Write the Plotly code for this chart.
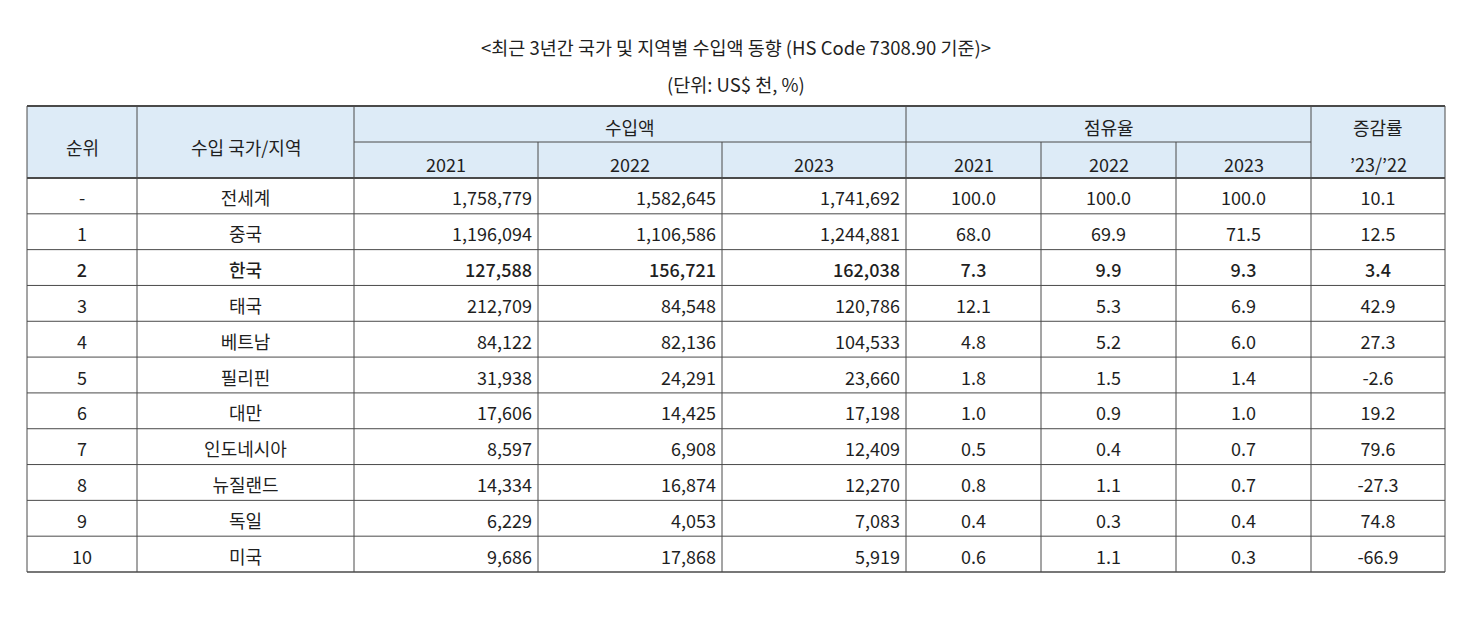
import plotly.graph_objects as go

FONT = "Noto Sans CJK KR, Noto Sans, sans-serif"
TEXT = '#1f1f1f'
LINE = '#4a4a4a'
HEAD_BG = '#DDEBF7'

title = '&lt;최근 3년간 국가 및 지역별 수입액 동향 (HS Code 7308.90 기준)&gt;'
unit = '(단위: US$ 천, %)'

ranks = ['-', '1', '2', '3', '4', '5', '6', '7', '8', '9', '10']
regions = ['전세계', '중국', '한국', '태국', '베트남', '필리핀', '대만', '인도네시아', '뉴질랜드', '독일', '미국']
imp_2021 = [1758779, 1196094, 127588, 212709, 84122, 31938, 17606, 8597, 14334, 6229, 9686]
imp_2022 = [1582645, 1106586, 156721, 84548, 82136, 24291, 14425, 6908, 16874, 4053, 17868]
imp_2023 = [1741692, 1244881, 162038, 120786, 104533, 23660, 17198, 12409, 12270, 7083, 5919]
share_2021 = [100.0, 68.0, 7.3, 12.1, 4.8, 1.8, 1.0, 0.5, 0.8, 0.4, 0.6]
share_2022 = [100.0, 69.9, 9.9, 5.3, 5.2, 1.5, 0.9, 0.4, 1.1, 0.3, 1.1]
share_2023 = [100.0, 71.5, 9.3, 6.9, 6.0, 1.4, 1.0, 0.7, 0.7, 0.4, 0.3]
growth = [10.1, 12.5, 3.4, 42.9, 27.3, -2.6, 19.2, 79.6, -27.3, 74.8, -66.9]
years = ['2021', '2022', '2023']
bold_row = '한국'

# layout grid (pixel coordinates of the page)
col_x = [27, 137, 354, 538, 722, 906, 1041, 1176, 1311, 1445]
top, mid, head_bot, bottom = 106, 142, 178, 572
row_h = (bottom - head_bot) / len(ranks)
row_y = [head_bot + (i + 0.5) * row_h + 5 for i in range(len(ranks))]
weights = [500 if r == bold_row else 400 for r in regions]
SIZE = 18

fig = go.Figure()


def add_col(texts, x, pos):
    fig.add_trace(go.Scatter(
        x=[x] * len(texts), y=row_y, text=texts, mode='text',
        textposition=pos, hoverinfo='skip', showlegend=False,
        textfont=dict(family=FONT, size=SIZE, color=TEXT, weight=weights)))


def center(i):
    return (col_x[i] + col_x[i + 1]) / 2


add_col(ranks, center(0), 'middle center')
add_col(regions, center(1), 'middle center')
for k, vals in enumerate([imp_2021, imp_2022, imp_2023]):
    add_col([f'{v:,}' for v in vals], col_x[3 + k] - 6, 'middle left')
for k, vals in enumerate([share_2021, share_2022, share_2023]):
    add_col([f'{v:.1f}' for v in vals], center(5 + k), 'middle center')
add_col([f'{v:.1f}' for v in growth], center(8), 'middle center')

shapes = [dict(type='rect', x0=col_x[0], x1=col_x[-1], y0=top, y1=head_bot,
               fillcolor=HEAD_BG, line=dict(width=0), layer='below')]


def hline(y, x0, x1, w=1):
    shapes.append(dict(type='line', x0=x0, x1=x1, y0=y, y1=y, line=dict(color=LINE, width=w)))


def vline(x, y0, y1, w=1):
    shapes.append(dict(type='line', x0=x, x1=x, y0=y0, y1=y1, line=dict(color=LINE, width=w)))


hline(top, col_x[0], col_x[-1], 2)
hline(mid, col_x[2], col_x[8])
hline(head_bot, col_x[0], col_x[-1], 2)
for i in range(1, len(ranks)):
    hline(head_bot + i * row_h, col_x[0], col_x[-1])
hline(bottom, col_x[0], col_x[-1], 1.5)
for i, x in enumerate(col_x):
    if i in (3, 4, 6, 7):
        vline(x, mid, bottom)
    else:
        vline(x, top, bottom)

hy1 = (top + mid) / 2 + 3
hy2 = (mid + head_bot) / 2 + 4
annotations = [
    dict(x=736, y=47, text=title, showarrow=False, font=dict(family=FONT, size=18.5, color=TEXT)),
    dict(x=736, y=84, text=unit, showarrow=False, font=dict(family=FONT, size=18.5, color=TEXT)),
    dict(x=center(0), y=(top + head_bot) / 2 + 5, text='순위', showarrow=False),
    dict(x=center(1), y=(top + head_bot) / 2 + 5, text='수입 국가/지역', showarrow=False),
    dict(x=(col_x[2] + col_x[5]) / 2, y=hy1, text='수입액', showarrow=False),
    dict(x=(col_x[5] + col_x[8]) / 2, y=hy1, text='점유율', showarrow=False),
    dict(x=center(8), y=hy1, text='증감률', showarrow=False),
    dict(x=center(8), y=hy2, text='’23/’22', showarrow=False),
]
for k, yr in enumerate(years):
    annotations.append(dict(x=center(2 + k), y=hy2, text=yr, showarrow=False))
    annotations.append(dict(x=center(5 + k), y=hy2, text=yr, showarrow=False))

# the page body has an 8px margin, so the axes start 8px in
fig.update_layout(
    width=1465, height=631,
    margin=dict(l=0, r=0, t=0, b=0),
    plot_bgcolor='white', paper_bgcolor='white',
    font=dict(family=FONT, size=SIZE, color=TEXT),
    xaxis=dict(range=[8, 1473], visible=False, fixedrange=True),
    yaxis=dict(range=[639, 8], visible=False, fixedrange=True),
    shapes=shapes,
    annotations=annotations,
)

fig.write_html("out.html")
